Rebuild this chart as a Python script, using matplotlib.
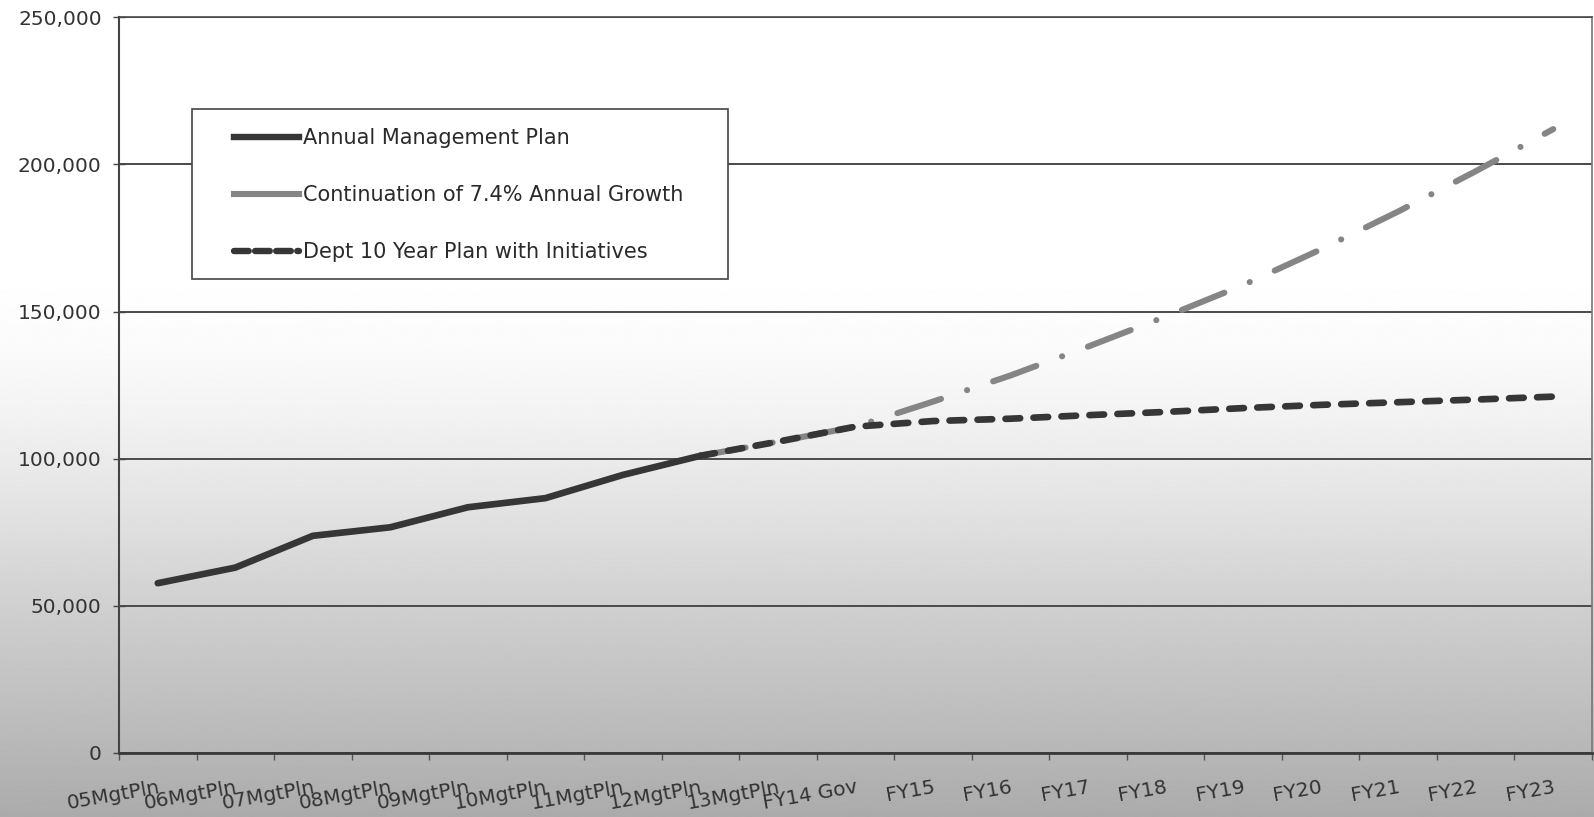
import numpy as np
import matplotlib
matplotlib.use("Agg")
import matplotlib.pyplot as plt
from matplotlib.lines import Line2D
from matplotlib.patches import Rectangle
from matplotlib.ticker import FuncFormatter

plt.rcParams['font.family'] = ['DejaVu Sans']

categories = ['05MgtPln', '06MgtPln', '07MgtPln', '08MgtPln', '09MgtPln',
              '10MgtPln', '11MgtPln', '12MgtPln', '13MgtPln', 'FY14 Gov',
              'FY15', 'FY16', 'FY17', 'FY18', 'FY19', 'FY20', 'FY21', 'FY22', 'FY23']

# annual management plan: 05MgtPln .. 12MgtPln
amp = [57700, 63000, 73800, 76700, 83500, 86600, 94500, 101000]
# continuation of 7.4% growth: 12MgtPln .. FY23
growth = [101000, 105800, 110900, 119400, 128300, 138100, 148300,
          159000, 171100, 184000, 197700, 212000]
# dept 10 year plan: 12MgtPln .. FY23
dept = [101000, 105800, 110900, 112800, 113600, 114800, 115900,
        117200, 118300, 119200, 120100, 121100]

labels = ['Annual Management Plan', 'Continuation of 7.4% Annual Growth',
          'Dept 10 Year Plan with Initiatives']

W, H = 1594, 817
fig = plt.figure(figsize=(W / 100, H / 100), dpi=100)

# background: white at top fading to grey at the bottom
bg = fig.add_axes([0, 0, 1, 1], zorder=-10)
rows = np.linspace(0, 1, 400)
shade = np.interp(rows, [0, 0.33, 0.42, 0.5, 0.62, 0.75, 0.9, 1.0],
                  [1.0, 1.0, 0.985, 0.955, 0.89, 0.81, 0.73, 0.67])
bg.imshow(shade[:, None], cmap='gray', vmin=0, vmax=1, aspect='auto',
          extent=[0, 1, 0, 1], interpolation='bilinear')
bg.set_axis_off()

left, right, top, bottom = 119, 1592, 17.3, 753
ax = fig.add_axes([left / W, 1 - bottom / H, (right - left) / W, (bottom - top) / H])
ax.set_facecolor('none')

x = np.arange(len(categories))
dark = '#363636'
grey = '#858585'

ax.plot(x[:len(amp)], amp, color=dark, lw=4.8, solid_capstyle='round', zorder=3)
g_line, = ax.plot(x[7:], growth, color=grey, lw=4.4, zorder=3,
                  dash_capstyle='round')
g_line.set_dashes((7.5, 4.5, 0.01, 4.5))
d_line, = ax.plot(x[7:], dept, color=dark, lw=4.8, zorder=4,
                  dash_capstyle='round')
d_line.set_dashes((2.2, 2.0))

ax.set_xlim(-0.5, len(categories) - 0.5)
ax.set_ylim(0, 250000)
ax.set_yticks(np.arange(0, 250001, 50000))
ax.yaxis.set_major_formatter(FuncFormatter(lambda v, p: f'{v:,.0f}'))
ax.grid(axis='y', color='#4a4a4a', lw=1.4)
ax.set_axisbelow(True)

ax.set_xticks(x)
ax.set_xticklabels(categories, rotation=10, ha='right', rotation_mode='anchor',
                   va='top')
ax.set_xticks(np.arange(-0.5, len(categories)), minor=True)
ax.tick_params(axis='x', which='major', length=0, pad=18, labelsize=14.5,
               labelcolor='#333333')
ax.tick_params(axis='x', which='minor', length=5, width=1, color='#555555')
ax.tick_params(axis='y', length=9, direction='inout', width=1, color='#444444',
               labelsize=14.5, labelcolor='#333333', pad=8)

ax.spines['right'].set_color('#777777')
ax.spines['right'].set_linewidth(1.2)
ax.spines['top'].set_color('#4a4a4a')
ax.spines['top'].set_linewidth(1.2)
ax.spines['left'].set_color('#444444')
ax.spines['left'].set_linewidth(1.5)
ax.spines['bottom'].set_color('#3a3a3a')
ax.spines['bottom'].set_linewidth(2)

# legend box
bx0, by0, bx1, by1 = 192, 109, 728, 279
ax.add_patch(Rectangle(((bx0 - left) / (right - left), 1 - (by1 - top) / (bottom - top)),
                       (bx1 - bx0) / (right - left), (by1 - by0) / (bottom - top),
                       transform=ax.transAxes, facecolor='white', edgecolor='#444444',
                       lw=1.2, zorder=5))
handles = [Line2D([], [], color=dark, lw=4.6),
           Line2D([], [], color=grey, lw=4.4),
           Line2D([], [], color=dark, lw=4.6, dashes=(2.3, 1.0), dash_capstyle='round')]
leg = ax.legend(handles, labels, loc='upper left', frameon=False,
                bbox_to_anchor=((234 - left) / (right - left), 1 - (128 - top) / (bottom - top)),
                borderpad=0, borderaxespad=0, handlelength=3.1, handletextpad=0.2,
                labelspacing=1.78, fontsize=15)
leg.set_zorder(6)
for t in leg.get_texts():
    t.set_color('#2a2a2a')

fig.savefig('out.png', dpi=100)
